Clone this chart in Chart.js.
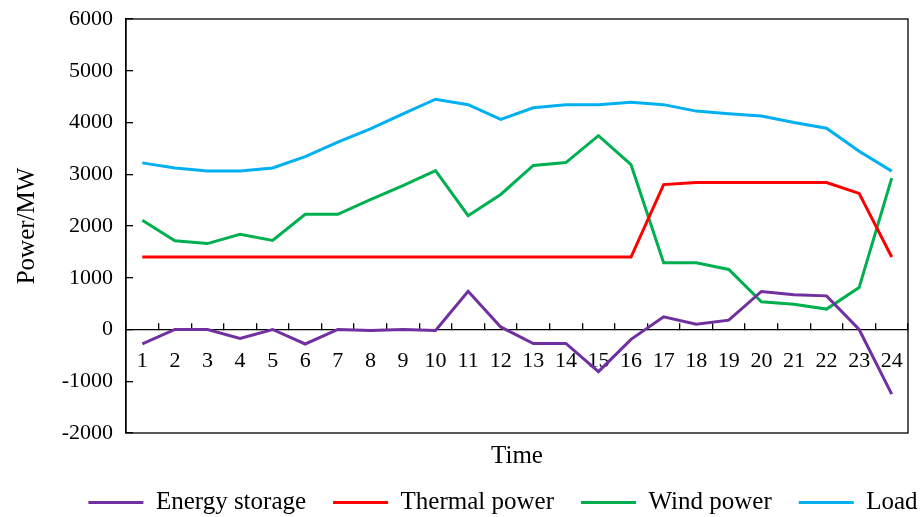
<!DOCTYPE html>
<html>
<head>
<meta charset="utf-8">
<script src="https://cdn.jsdelivr.net/npm/chart.js@4.4.1/dist/chart.umd.min.js"></script>
<style>
  html, body { margin: 0; padding: 0; background: #fff; }
  #wrap { width: 920px; height: 517px; }
</style>
</head>
<body>
<div id="wrap"><canvas id="chart"></canvas></div>
<script>
// hours 1..24
const hours = ['1','2','3','4','5','6','7','8','9','10','11','12','13','14','15','16','17','18','19','20','21','22','23','24'];

const energyStorage = [-280, 0, 0, -175, 0, -280, 0, -20, 0, -20, 740, 50, -270, -270, -815, -190, 245, 100, 180, 735, 670, 650, 0, -1250];
const thermalPower = [1400, 1400, 1400, 1400, 1400, 1400, 1400, 1400, 1400, 1400, 1400, 1400, 1400, 1400, 1400, 1400, 2800, 2840, 2840, 2840, 2840, 2840, 2630, 1400];
const windPower = [2110, 1715, 1660, 1840, 1720, 2225, 2225, 2510, 2780, 3070, 2200, 2610, 3170, 3225, 3745, 3185, 1290, 1290, 1160, 535, 490, 395, 810, 2925];
const load = [3220, 3120, 3065, 3065, 3120, 3340, 3620, 3875, 4165, 4450, 4345, 4060, 4285, 4345, 4345, 4390, 4345, 4220, 4170, 4125, 4000, 3890, 3445, 3060];

const seriesNames = ['Energy storage', 'Thermal power', 'Wind power', 'Load'];
const seriesColors = ['#7030A0', '#FF0000', '#00B050', '#00B0F0'];

const yMin = -2000, yMax = 6000, yStep = 1000;

const serif = 'Liberation Serif, Times New Roman, serif';

// box around the plot area
const plotBox = {
    id: 'plotBox',
    beforeDatasetsDraw(chart) {
        const a = chart.chartArea;
        const ctx = chart.ctx;
        ctx.save();
        ctx.strokeStyle = '#000';
        ctx.lineWidth = 1.3;
        ctx.strokeRect(a.left, a.top, a.right - a.left, a.bottom - a.top);
        ctx.restore();
    }
};

const values = [energyStorage, thermalPower, windPower, load];
const datasets = values.map(function(v, i) {
    return {
        label: seriesNames[i],
        data: v,
        borderColor: seriesColors[i],
        backgroundColor: seriesColors[i],
        borderWidth: 3,
        pointRadius: 0,
        tension: 0,
        fill: false
    };
});

new Chart(document.getElementById('chart'), {
    type: 'line',
    data: { labels: hours, datasets: datasets },
    plugins: [plotBox],
    options: {
        responsive: true,
        maintainAspectRatio: false,
        animation: false,
        layout: { padding: { top: 19, left: 0, right: -86, bottom: -8 } },
        plugins: {
            tooltip: { enabled: false },
            legend: {
                position: 'bottom',
                labels: {
                    font: { family: serif, size: 25 },
                    color: '#000',
                    boxWidth: 55,
                    boxHeight: 3,
                    padding: 27,
                    generateLabels: function(chart) {
                        return Chart.defaults.plugins.legend.labels.generateLabels(chart).map(function(l) {
                            l.lineWidth = 0;
                            return l;
                        });
                    }
                }
            }
        },
        scales: {
            x: {
                type: 'category',
                position: { y: 0 },
                offset: true,
                grid: { offset: true, drawOnChartArea: false, tickLength: -7, color: '#000', lineWidth: 1.3 },
                border: { color: '#000', width: 1.3 },
                ticks: { font: { family: serif, size: 22 }, color: '#000', padding: 26, maxRotation: 0, autoSkip: false },
                afterFit: function(scale) {
                    scale.paddingLeft = 0;
                    scale.paddingRight = 0;
                }
            },
            x2: {
                type: 'category',
                position: 'bottom',
                labels: hours,
                grid: { display: false },
                border: { display: false },
                ticks: { display: false },
                title: { display: true, text: 'Time', font: { family: serif, size: 25 }, color: '#000', padding: { top: 0, bottom: -8 } },
                afterFit: function(scale) {
                    scale.paddingLeft = 0;
                    scale.paddingRight = 0;
                }
            },
            y: {
                min: yMin,
                max: yMax,
                ticks: {
                    stepSize: yStep,
                    font: { family: serif, size: 22 },
                    color: '#000',
                    padding: 20,
                    callback: function(v) { return String(v); }
                },
                grid: { drawOnChartArea: false, tickLength: -7, color: '#000', lineWidth: 1.3 },
                border: { color: '#000', width: 1.3 },
                title: { display: true, text: 'Power/MW', font: { family: serif, size: 25 }, color: '#000', padding: { top: 12, bottom: 0 } },
                afterFit: function(scale) {
                    scale.width = 126;
                    scale.paddingTop = 0;
                    scale.paddingBottom = 0;
                }
            },
            yr: {
                position: 'right',
                grid: { display: false },
                border: { display: false },
                ticks: { display: false },
                afterFit: function(scale) { scale.width = 98; }
            }
        }
    }
});
</script>
</body>
</html>
